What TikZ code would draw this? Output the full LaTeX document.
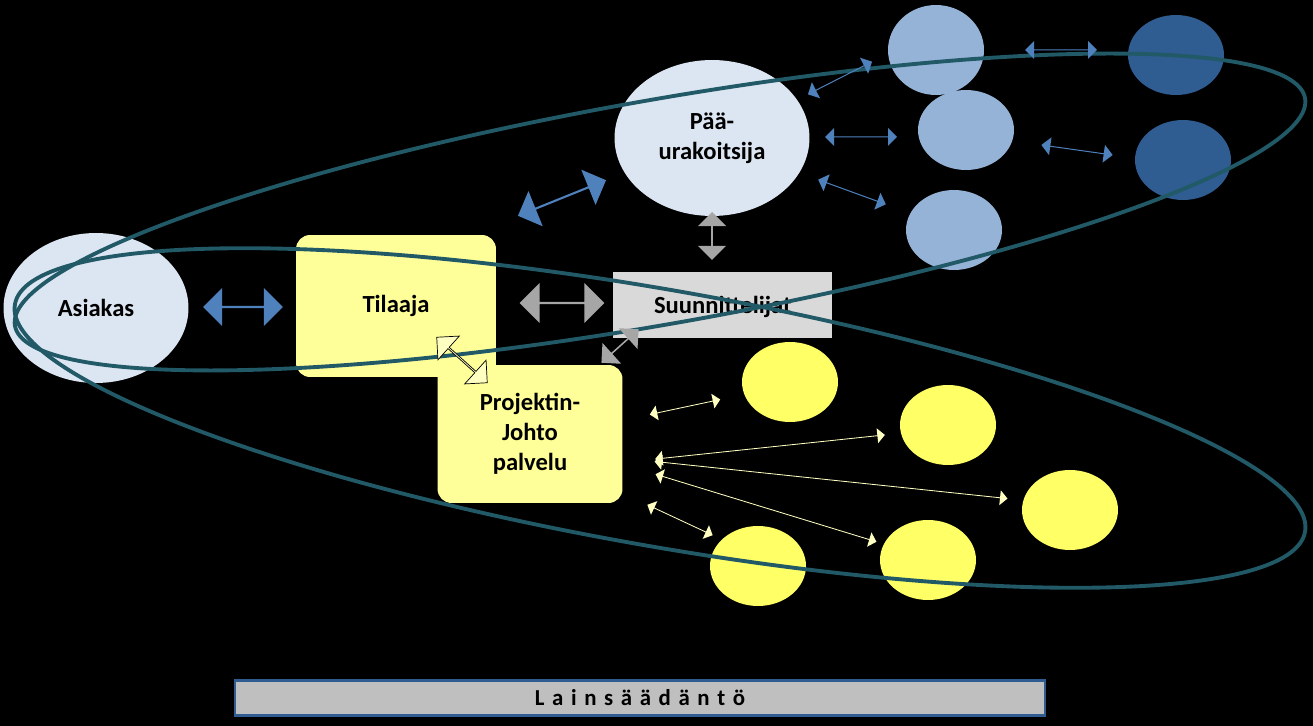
\documentclass[tikz,border=0pt]{standalone}
\usepackage{fontspec}
\setmainfont{Carlito}
\usetikzlibrary{shapes.arrows,shapes.geometric}
\definecolor{lightblue}{HTML}{DCE6F2}
\definecolor{midblue}{HTML}{95B3D7}
\definecolor{darkblue}{HTML}{2F5C91}
\definecolor{arrowblue}{HTML}{4F81BD}
\definecolor{paleyellow}{HTML}{FFFF99}
\definecolor{brightyellow}{HTML}{FFFF66}
\definecolor{ringcolor}{HTML}{215967}
\tikzset{
  party/.style={ellipse, fill=lightblue, font=\bfseries\fontsize{14}{17}\selectfont, align=center},
  office/.style={rounded corners=8pt, fill=paleyellow, font=\bfseries\fontsize{14}{17}\selectfont, align=center},
  member/.style={ellipse, minimum width=1.92cm, minimum height=1.6cm},
  twoway/.style={double arrow, double arrow head extend=0.12cm, inner sep=0pt, minimum height=#1},
}
\newcommand{\twoarrow}[7]{%
  \node[twoway=#5, minimum width=#6, fill=#7, rotate=#4] (#1) at (#2,#3) {};}
\begin{document}
\begin{tikzpicture}[x=0.02cm, y=-0.02cm]
\fill[black] (0,0) rectangle (1313,726);
\useasboundingbox (0,0) rectangle (1313,726);

% main parties
\node[party, minimum width=3.7cm, minimum height=3cm] (asiakas) at (96,308) {Asiakas};
\node[office, minimum width=4cm, minimum height=2.84cm] (tilaaja) at (396,306) {Tilaaja};
\node[party, minimum width=3.9cm, minimum height=3.12cm] (paa) at (712,138) {Pää-\\urakoitsija};
\node[fill=black!15, minimum width=4.38cm, minimum height=1.32cm,
  font=\bfseries\fontsize{14}{17}\selectfont, anchor=north west, text depth=0pt] (suun) at (613,272) {Suunnittelijat\hspace{1.3cm}};
\node[office, minimum width=3.7cm, minimum height=2.76cm] (projekti) at (530,434) {Projektin-\\Johto\\palvelu};

% subcontractors
\node[member, fill=midblue, minimum height=1.8cm] (ali1) at (936,50) {};
\node[member, fill=midblue] (ali2) at (966,130) {};
\node[member, fill=midblue] (ali3) at (954,230) {};
\node[member, fill=darkblue] (ali4) at (1176,55) {};
\node[member, fill=darkblue] (ali5) at (1183,160) {};

% consultants
\node[member, fill=brightyellow] (kon1) at (790,382) {};
\node[member, fill=brightyellow] (kon2) at (948,425) {};
\node[member, fill=brightyellow] (kon3) at (1070,510) {};
\node[member, fill=brightyellow] (kon4) at (928,560) {};
\node[member, fill=brightyellow] (kon5) at (758,566) {};

% rings
\draw[ringcolor, line width=2.2pt, rotate around={10:(660,212)}] (660,212) ellipse [x radius=655, y radius=112];
\draw[ringcolor, line width=2.2pt, rotate around={-10:(660,418)}] (660,418) ellipse [x radius=655, y radius=128];

% arrows
\twoarrow{a1}{243}{307}{0}{1.6cm}{0.76cm}{arrowblue}
\twoarrow{a2}{562}{198}{22}{1.9cm}{0.76cm}{arrowblue}
\twoarrow{a3}{562}{303}{0}{1.7cm}{0.8cm}{black!35}
\twoarrow{a4}{712}{236}{90}{0.96cm}{0.56cm}{black!35}
\twoarrow{a5}{620}{346}{42}{1cm}{0.56cm}{black!35}
\node[twoway=1.36cm, minimum width=0.64cm, fill=paleyellow!60, draw=black, rotate=-42] (a6) at (462,360) {};
\twoarrow{b1}{840}{78}{27}{1.44cm}{0.36cm}{arrowblue}
\twoarrow{b2}{861}{137}{0}{1.44cm}{0.36cm}{arrowblue}
\twoarrow{b3}{852}{192}{-20}{1.44cm}{0.36cm}{arrowblue}
\twoarrow{b4}{1061}{50}{0}{1.44cm}{0.36cm}{arrowblue}
\twoarrow{b5}{1077}{150}{-8}{1.44cm}{0.36cm}{arrowblue}
\twoarrow{c1}{685}{407}{12}{1.44cm}{0.3cm}{paleyellow!60}
\twoarrow{c2}{770}{447}{6}{4.62cm}{0.3cm}{paleyellow!60}
\twoarrow{c3}{831}{480}{-6}{7.1cm}{0.3cm}{paleyellow!60}
\twoarrow{c4}{766}{508}{-17}{4.62cm}{0.3cm}{paleyellow!60}
\twoarrow{c5}{680}{520}{-25}{1.44cm}{0.3cm}{paleyellow!60}

% legislation bar
\node[fill=black!25, draw=darkblue, line width=1.2pt, minimum width=16.2cm, minimum height=0.7cm,
  font=\bfseries\fontsize{13}{15}\selectfont] (laki) at (640,698) {L\,\,a\,\,i\,\,n\,\,s\,\,ä\,\,ä\,\,d\,\,ä\,\,n\,\,t\,\,ö};
\end{tikzpicture}
\end{document}
